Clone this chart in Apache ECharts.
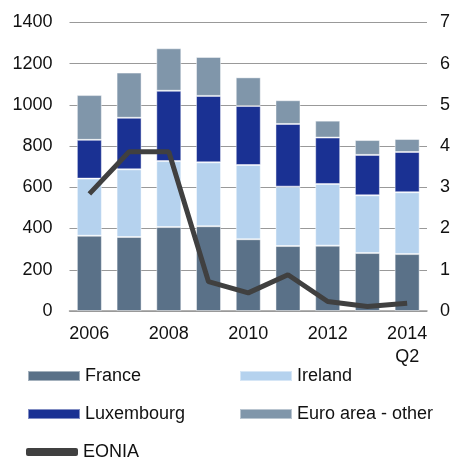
<!DOCTYPE html>
<html><head><meta charset="utf-8">
<script src="https://cdn.jsdelivr.net/npm/echarts@6/dist/echarts.min.js"></script>
<style>html,body{margin:0;padding:0;background:#fff}#c{width:454px;height:460px}</style>
</head><body><div id="c"></div>
<script>
const categories = ['2006','2007','2008','2009','2010','2011','2012','2013','2014\nQ2'];
const france     = [365, 359, 407, 411, 348, 315, 317, 281, 276];
const ireland    = [277, 328, 320, 310, 360, 288, 299, 280, 300];
const luxembourg = [188, 250, 341, 322, 286, 304, 225, 196, 195];
const euroOther  = [217, 219, 206, 189, 139, 115, 82, 72, 63];
const eonia      = [2.84, 3.86, 3.86, 0.71, 0.44, 0.88, 0.23, 0.11, 0.19];
const leftTicks = {min: 0, max: 1400, interval: 200};
const rightTicks = {min: 0, max: 7, interval: 1};

const FONT = 'Liberation Sans, Arial, sans-serif';
const colors = {France:'#5a7188', Ireland:'#b5d2ee', Luxembourg:'#1a3193', 'Euro area - other':'#8096aa', EONIA:'#404040'};
const chart = echarts.init(document.getElementById('c'), null, {renderer:'canvas'});
const barStyle = c => ({color: c, borderColor: 'rgba(255,255,255,0.45)', borderWidth: 1});
const mkBar = (name, data) => ({name, type:'bar', stack:'s', data, barWidth: 25, itemStyle: barStyle(colors[name]), emphasis:{disabled:true}});
const legendBase = {orient:'horizontal', padding:0, itemWidth:52, itemHeight:10, itemGap:6, textStyle:{fontFamily:FONT, fontSize:18, color:'#111'}, selectedMode:false};
option = {
  animation:false,
  grid:{left:69.5, right:27, top:22.3, bottom:149},
  legend:[
    Object.assign({}, legendBase, {data:[{name:'France', icon:'rect'}], left:27, top:367}),
    Object.assign({}, legendBase, {data:[{name:'Ireland', icon:'rect'}], left:239, top:367}),
    Object.assign({}, legendBase, {data:[{name:'Luxembourg', icon:'rect'}], left:27, top:405}),
    Object.assign({}, legendBase, {data:[{name:'Euro area - other', icon:'rect'}], left:239, top:405}),
    Object.assign({}, legendBase, {data:[{name:'EONIA', icon:'roundRect'}], itemHeight:8, left:26, top:443})
  ],
  xAxis:{type:'category', data:categories,
    axisLine:{lineStyle:{color:'#999', width:1.5}}, axisTick:{show:false},
    axisLabel:{interval:1, margin:12, fontFamily:FONT, fontSize:18, color:'#111', lineHeight:23}},
  yAxis:[
    {type:'value', min:leftTicks.min, max:leftTicks.max, interval:leftTicks.interval,
     axisLine:{show:false}, axisTick:{show:false},
     splitLine:{lineStyle:{color:'#999', width:1}},
     axisLabel:{margin:17, fontFamily:FONT, fontSize:18, color:'#111', formatter: v => String(v)}},
    {type:'value', min:rightTicks.min, max:rightTicks.max, interval:rightTicks.interval,
     axisLine:{show:false}, axisTick:{show:false}, splitLine:{show:false},
     axisLabel:{margin:13, fontFamily:FONT, fontSize:18, color:'#111'}}
  ],
  series:[
    mkBar('France', france),
    mkBar('Ireland', ireland),
    mkBar('Luxembourg', luxembourg),
    mkBar('Euro area - other', euroOther),
    {name:'EONIA', type:'line', yAxisIndex:1, data:eonia, symbol:'none', itemStyle:{color:colors.EONIA},
     lineStyle:{color:colors.EONIA, width:5}, emphasis:{disabled:true}, z:5}
  ]
};
chart.setOption(option);
</script></body></html>
